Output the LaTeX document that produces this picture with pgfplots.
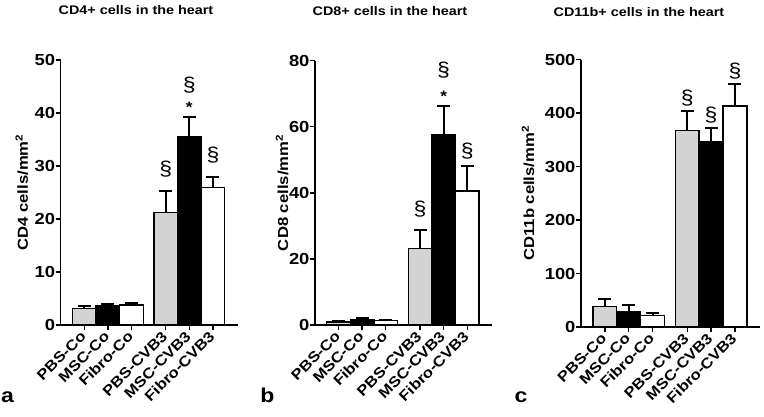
\documentclass[border=0pt]{standalone}
\usepackage{pgfplots}
\pgfplotsset{compat=1.18}
\usepackage{fontspec}
\setmainfont{Liberation Sans}[FakeStretch=1.15]
\definecolor{barGray}{RGB}{211,211,211}

\pgfplotsset{
  panel/.style={
    scale only axis, clip=false,
    axis x line*=bottom, axis y line*=left,
    axis line style={line width=1.4pt, -},
    xmin=0, xmax=7.5, ymin=0,
    xtick={1,2,3,4.45,5.45,6.45},
    xticklabels={PBS-Co,MSC-Co,Fibro-Co,PBS-CVB3,MSC-CVB3,Fibro-CVB3},
    tick align=outside, major tick length=5pt,
    tick style={line width=1.4pt, black},
    x tick label style={rotate=45, anchor=east, yshift=-2pt, font=\bfseries\fontsize{14.5}{14.5}\selectfont},
    y tick label style={xshift=3pt, font=\bfseries\fontsize{16}{16}\selectfont},
    /pgf/number format/assume math mode=true,
    ylabel style={font=\bfseries\fontsize{14.5}{15}\selectfont, anchor=center},
    every axis plot/.append style={ybar, bar width=1, bar shift=0pt, draw=black, line width=1.3pt},
    error bars/y dir=plus, error bars/y explicit,
    error bars/error bar style={line width=2pt, black},
    error bars/error mark options={rotate=90, line width=2pt, mark size=6.5pt, black},
  },
}
\tikzset{
  sym/.style={font=\fontsize{20}{20}\selectfont},
  star/.style={font=\bfseries\fontsize{15}{15}\selectfont},
}

\begin{document}
\begin{tikzpicture}
\useasboundingbox (0pt,0pt) rectangle (764pt,416pt);

% panel a
\begin{axis}[panel, at={(60.7pt,91pt)}, anchor=south west, width=177pt, height=265pt,
  ymax=50, ytick={0,10,...,50},
  ylabel={CD4 cells/mm\textsuperscript{2}}, ylabel style={at={(axis description cs:-0.22,0.5)}}]
  \addplot[fill=barGray] coordinates {(1,3.1) +- (0,0.5) (4.45,21.2) +- (0,4.0)};
  \addplot[fill=black] coordinates {(2,3.6) +- (0,0.4) (5.45,35.5) +- (0,3.7)};
  \addplot[fill=white] coordinates {(3,3.8) +- (0,0.4) (6.45,25.9) +- (0,2.1)};
  \node[sym] at (axis cs:4.45,29.4) {§};
  \node[star] at (axis cs:5.45,41.1) {*};
  \node[sym] at (axis cs:5.45,45.3) {§};
  \node[sym] at (axis cs:6.45,32.1) {§};
\end{axis}

% panel b
\begin{axis}[panel, at={(315pt,91pt)}, anchor=south west, width=177pt, height=264.3pt,
  ymax=80, ytick={0,20,...,80},
  ylabel={CD8 cells/mm\textsuperscript{2}}, ylabel style={at={(axis description cs:-0.186,0.5)}}]
  \addplot[fill=barGray] coordinates {(1,0.9) +- (0,0.3) (4.45,23.2) +- (0,5.6)};
  \addplot[fill=black] coordinates {(2,1.7) +- (0,0.3) (5.45,57.7) +- (0,8.7)};
  \addplot[fill=white] coordinates {(3,1.4) +- (0,0.2) (6.45,40.6) +- (0,7.5)};
  \node[sym] at (axis cs:4.45,35.0) {§};
  \node[star] at (axis cs:5.45,69.1) {*};
  \node[sym] at (axis cs:5.45,77.2) {§};
  \node[sym] at (axis cs:6.45,52.5) {§};
\end{axis}

% panel c
\begin{axis}[panel, at={(581pt,89pt)}, anchor=south west, width=179pt, height=267.5pt,
  ymax=500, ytick={0,100,...,500},
  ylabel={CD11b cells/mm\textsuperscript{2}}, ylabel style={at={(axis description cs:-0.296,0.5)}}]
  \addplot[fill=barGray] coordinates {(1,38) +- (0,14) (4.45,367) +- (0,37)};
  \addplot[fill=black] coordinates {(2,29) +- (0,12.5) (5.45,346) +- (0,26)};
  \addplot[fill=white] coordinates {(3,22) +- (0,4) (6.45,413) +- (0,41)};
  \node[sym] at (axis cs:4.45,428) {§};
  \node[sym] at (axis cs:5.45,397) {§};
  \node[sym] at (axis cs:6.45,478) {§};
\end{axis}

\node[font=\bfseries\fontsize{12.5}{13}\selectfont] at (136pt,405.5pt) {CD4+ cells in the heart};
\node[font=\bfseries\fontsize{12.5}{13}\selectfont] at (390pt,404.5pt) {CD8+ cells in the heart};
\node[font=\bfseries\fontsize{12.5}{13}\selectfont] at (639pt,404pt) {CD11b+ cells in the heart};

\node[font=\bfseries\fontsize{20}{20}\selectfont] at (7.5pt,19pt) {a};
\node[font=\bfseries\fontsize{20}{20}\selectfont] at (267.5pt,21pt) {b};
\node[font=\bfseries\fontsize{20}{20}\selectfont] at (521pt,19pt) {c};
\end{tikzpicture}
\end{document}
